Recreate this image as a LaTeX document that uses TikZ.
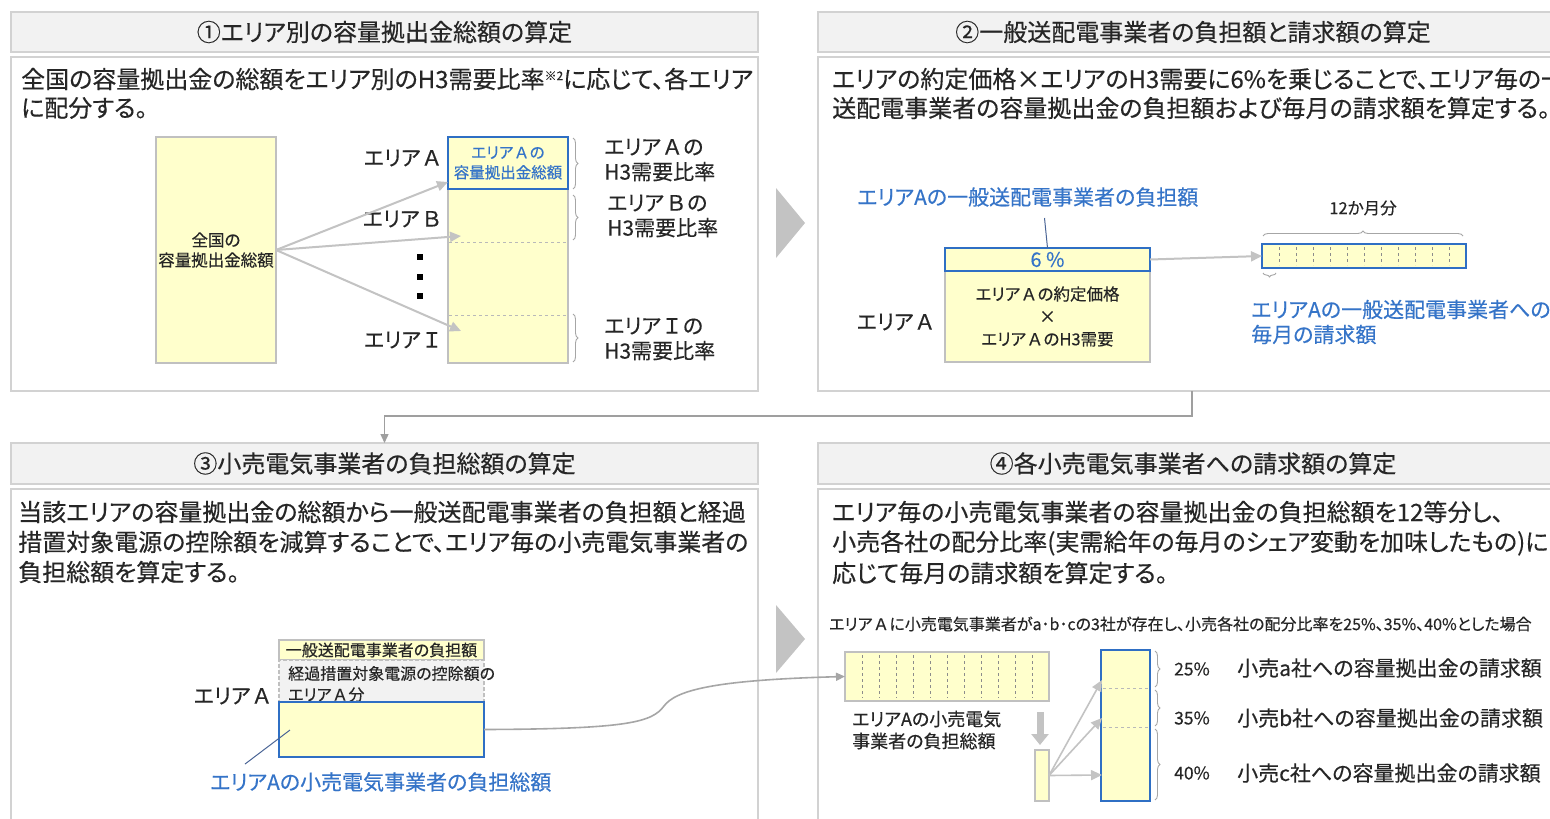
\documentclass[tikz,border=0pt]{standalone}
\usepackage{fontspec}
\setmainfont{Noto Sans CJK JP}[RawFeature=+palt, FakeBold=0.35]
\usetikzlibrary{arrows.meta,decorations.pathreplacing,calc}
\definecolor{hdrfill}{HTML}{F2F2F2}
\definecolor{frame}{HTML}{D2D2D2}
\definecolor{ylw}{HTML}{FFFFCC}
\definecolor{blu}{HTML}{2F6FC4}
\definecolor{blutxt}{HTML}{3574C8}
\definecolor{arr}{HTML}{C3C3C3}
\definecolor{txt}{HTML}{262626}
\definecolor{boxline}{HTML}{C0C0C0}
\definecolor{leader}{HTML}{4A6596}
\newcommand{\fs}[2]{\fontsize{#1}{#2}\selectfont}
\newcommand{\FW}[1]{\hspace{0.14em}#1\hspace{0.14em}}
\tikzset{
  hdr/.style={draw=frame, line width=1.5pt, fill=hdrfill, inner sep=0pt, outer sep=0pt, anchor=north west, font=\fs{24}{30}, text=txt},
  pbody/.style={draw=frame, line width=1.5pt, fill=white, inner sep=0pt, outer sep=0pt, anchor=north west},
  bodytxt/.style={anchor=west, inner sep=0pt, font=\fs{24}{30}, text=txt},
  lbl/.style={inner sep=0pt, font=\fs{21}{25}, text=txt, align=left},
  bluelbl/.style={inner sep=0pt, font=\fs{21}{25}, text=blutxt, align=left, anchor=west},
  ybox/.style={draw=boxline, line width=1.2pt, fill=ylw, inner sep=0pt, outer sep=0pt, anchor=north west},
  bbox/.style={draw=blu, line width=1.8pt, fill=ylw, inner sep=0pt, outer sep=0pt, anchor=north west},
  garrow/.style={draw=arr, line width=2pt, -{Triangle[width=10pt,length=11pt]}},
  conn/.style={draw=gray!75, line width=1.3pt, -{Triangle[width=8pt,length=9pt]}},
  brc/.style={draw=gray!70, line width=0.9pt, decorate, decoration={brace, amplitude=5pt}},
  dsep/.style={draw=gray!90, line width=0.7pt, dash pattern=on 3pt off 3pt},
  hsep/.style={draw=gray!55, line width=1pt, dash pattern=on 3pt off 3pt},
}
\begin{document}
\begin{tikzpicture}[x=1pt,y=-1pt]
\useasboundingbox (0,0) rectangle (1550,819);
\clip (0,0) rectangle (1550,819);
\fill[white] (0,0) rectangle (1550,819);

% ---------- panel frames ----------
\node[hdr, minimum width=747, minimum height=40] (p1h) at (11,12) {①エリア別の容量拠出金総額の算定};
\node[pbody, minimum width=747, minimum height=334] (p1b) at (11,57) {};
\node[hdr, minimum width=750, minimum height=40] (p2h) at (818,12) {②一般送配電事業者の負担額と請求額の算定};
\node[pbody, minimum width=748, minimum height=334] (p2b) at (818,57) {};
\node[hdr, minimum width=747, minimum height=41] (p3h) at (11,443) {③小売電気事業者の負担総額の算定};
\node[pbody, minimum width=747, minimum height=345] (p3b) at (11,489) {};
\node[hdr, minimum width=750, minimum height=41] (p4h) at (818,443) {④各小売電気事業者への請求額の算定};
\node[pbody, minimum width=750, minimum height=345] (p4b) at (818,489) {};

% step triangles
\fill[arr] (776,188) -- (805,223) -- (776,258) -- cycle;
\fill[arr] (776,605) -- (805,639) -- (776,673) -- cycle;

% connector panel 2 -> panel 3
\draw[conn] (p2b.south) -- ++(0,25) -| (p3h.north);

% ---------- panel 1 ----------
\node[bodytxt] (p1l1) at (21,79) {全国の容量拠出金の総額をエリア別のH3需要比率{\fs{12}{12}\raisebox{8pt}{※2}}に応じて、各エリア};
\node[bodytxt] (p1l2) at (21,108) {に配分する。};

\node[ybox, minimum width=120, minimum height=226, font=\fs{16.5}{20}, align=center, text=txt] (nat) at (156,137) {全国の\\容量拠出金総額};
\node[ybox, minimum width=120, minimum height=226] (col) at (448,137) {};
\node[bbox, minimum width=120, minimum height=52, font=\fs{15.5}{20}, align=center, text=blutxt] (colA) at (448,137) {エリア\FW{Ａ}の\\容量拠出金総額};
\draw[hsep] (449,242) -- (567,242);
\draw[hsep] (449,315) -- (567,315);

\node[lbl, anchor=east] (aA) at (443,158) {エリア\FW{Ａ}};
\node[lbl, anchor=east] (aB) at (443,219) {エリア\FW{Ｂ}};
\node[lbl, anchor=east] (aI) at (443,340) {エリア\FW{Ｉ}};
\fill[black] (417,254) rectangle (423,260);
\fill[black] (417,274) rectangle (423,280);
\fill[black] (417,293) rectangle (423,299);

\coordinate (tA) at (448,182);
\coordinate (tB) at (461,236);
\coordinate (tI) at (461,331);
\draw[garrow] (nat.east) -- (tA);
\draw[garrow] (nat.east) -- (tB);
\draw[garrow] (nat.east) -- (tI);

\draw[brc] (573,138) -- (573,189);
\draw[brc] (573,195) -- (573,240);
\draw[brc] (573,314) -- (573,362);
\node[lbl, anchor=west] (rA) at (604,160) {エリア\FW{Ａ}の\\H3需要比率};
\node[lbl, anchor=west] (rB) at (607,216) {エリア\FW{Ｂ}の\\H3需要比率};
\node[lbl, anchor=west] (rI) at (604,339) {エリア\FW{Ｉ}の\\H3需要比率};

% ---------- panel 2 ----------
\node[bodytxt] (p2l1) at (832,79) {エリアの約定価格×エリアのH3需要に6\%を乗じることで、エリア毎の一般};
\node[bodytxt] (p2l2) at (832,108) {送配電事業者の容量拠出金の負担額および毎月の請求額を算定する。};

\node[bluelbl] (burden) at (857,197) {エリアAの一般送配電事業者の負担額};
\node[ybox, minimum width=205, minimum height=91, font=\fs{16.5}{22.5}, align=center, text=txt] (prc) at (945,271) {エリア\FW{Ａ}の約定価格\\×\\エリア\FW{Ａ}のH3需要};
\node[bbox, minimum width=205, minimum height=23, font=\fs{20}{20}, text=blutxt] (pct) at (945,248) {6 \%};
\draw[draw=leader, line width=1pt] (pct.north) -- ++(-3,-30);
\node[lbl, anchor=east] (p2A) at (936,322) {エリア\FW{Ａ}};

\node[bbox, minimum width=204, minimum height=24] (m12) at (1262,244) {};
\foreach \i in {1,...,11} \draw[dsep] (1262+17*\i,247) -- (1262+17*\i,265);
\draw[garrow] (pct.east) -- (m12.west);
\draw[brc, decoration={brace, amplitude=5pt}] (1263,236) -- (1463,236);
\node[lbl, font=\fs{16.5}{20}] (m12lbl) at (1363,208) {12か月分};
\draw[brc, decoration={brace, amplitude=4pt}] (1276,273) -- (1263,273);
\node[bluelbl] (monthly) at (1251,322) {エリアAの一般送配電事業者への\\毎月の請求額};

% ---------- panel 3 ----------
\node[bodytxt] (p3l1) at (18,512) {当該エリアの容量拠出金の総額から一般送配電事業者の負担額と経過};
\node[bodytxt] (p3l2) at (18,542) {措置対象電源の控除額を減算することで、エリア毎の小売電気事業者の};
\node[bodytxt] (p3l3) at (18,572) {負担総額を算定する。};

\node[ybox, minimum width=205, minimum height=20, font=\fs{16}{18}, text=txt] (p3a) at (279,640) {一般送配電事業者の負担額};
\node[draw=boxline, line width=1.2pt, dash pattern=on 4pt off 2pt, fill=hdrfill, inner sep=0pt, outer sep=0pt, anchor=north west, minimum width=205, minimum height=42] (p3b2) at (279,660) {};
\node[lbl, anchor=west, font=\fs{16}{21}] (p3btxt) at (288,684) {経過措置対象電源の控除額の\\エリア\FW{Ａ}分};
\node[bbox, minimum width=205, minimum height=55] (p3c) at (279,702) {};
\node[lbl, anchor=east] (p3A) at (273,696) {エリア\FW{Ａ}};
\node[bluelbl] (retail) at (210,782) {エリアAの小売電気事業者の負担総額};
\draw[draw=leader, line width=1pt] ($(p3c.north west)+(11,28)$) -- ($(retail.north west)+(35,-8)$);

% ---------- panel 4 ----------
\node[bodytxt] (p4l1) at (832,512) {エリア毎の小売電気事業者の容量拠出金の負担総額を12等分し、};
\node[bodytxt] (p4l2) at (832,543) {小売各社の配分比率(実需給年の毎月のシェア変動を加味したもの)に};
\node[bodytxt] (p4l3) at (832,573) {応じて毎月の請求額を算定する。};
\node[lbl, anchor=west, font=\fs{16}{18}] (note) at (829,624) {エリア\FW{Ａ}に小売電気事業者がa･b･cの3社が存在し、小売各社の配分比率を25\%、35\%、40\%とした場合};

\node[ybox, minimum width=204, minimum height=49] (m12b) at (845,652) {};
\foreach \i in {1,...,11} \draw[dsep] (845+17*\i,655) -- (845+17*\i,698);
\node[lbl, anchor=west, font=\fs{18}{22}] (m12blbl) at (852,730) {エリアAの小売電気\\事業者の負担総額};

\draw[conn, draw=arr!85!black, line width=1.6pt] (p3c.east) .. controls (630,729) and (652,722) .. (664,706) .. controls (676,690) and (715,680) .. (m12b.west);

\node[ybox, minimum width=14, minimum height=51] (sm) at (1035,750) {};
\draw[draw=arr, line width=7pt, -{Triangle[width=17pt,length=11pt]}] ($(sm.north)+(-2,-38)$) -- ($(sm.north)+(-2,-5)$);

\node[bbox, minimum width=49, minimum height=151] (tall) at (1101,650) {};
\draw[hsep] (1103,688) -- (1149,688);
\draw[hsep] (1103,727) -- (1149,727);
\coordinate (ta) at (1102,680);
\coordinate (tb) at (1102,718);
\coordinate (tc) at (1102,775);
\draw[garrow, line width=1.6pt] (sm.east) -- (ta);
\draw[garrow, line width=1.6pt] (sm.east) -- (tb);
\draw[garrow, line width=1.6pt] (sm.east) -- (tc);

\draw[brc] (1155,651) -- (1155,687);
\draw[brc] (1155,690) -- (1155,726);
\draw[brc] (1155,729) -- (1155,800);
\node[lbl, anchor=west, font=\fs{17.5}{20}] (pa) at (1174,669) {25\%};
\node[lbl, anchor=west, font=\fs{17.5}{20}] (pb) at (1174,718) {35\%};
\node[lbl, anchor=west, font=\fs{17.5}{20}] (pc) at (1174,773) {40\%};
\node[lbl, anchor=west] (ca) at (1237,668) {小売a社への容量拠出金の請求額};
\node[lbl, anchor=west] (cb) at (1237,718) {小売b社への容量拠出金の請求額};
\node[lbl, anchor=west] (cc) at (1237,773) {小売c社への容量拠出金の請求額};
\end{tikzpicture}
\end{document}
